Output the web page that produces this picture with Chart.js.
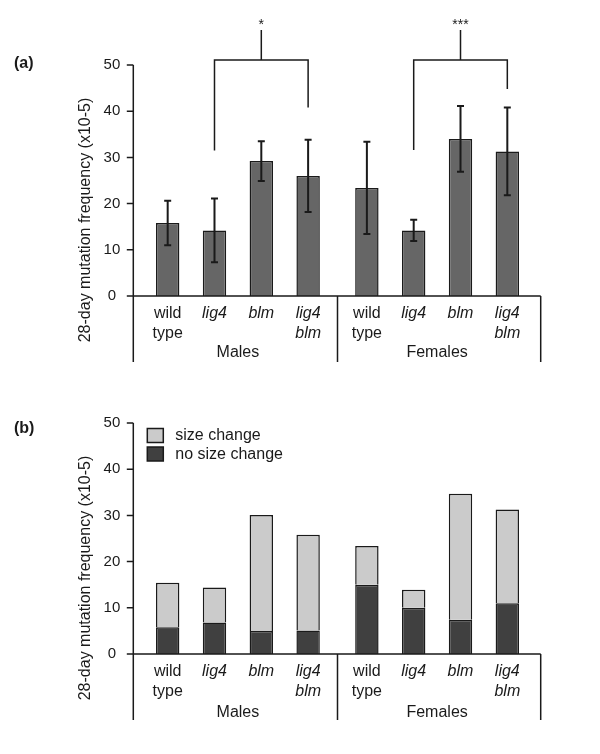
<!DOCTYPE html>
<html>
<head>
<meta charset="utf-8">
<title>28-day mutation frequency</title>
<script src="https://cdn.jsdelivr.net/npm/chart.js"></script>
<style>
  body { margin: 0; background: #fff; }
  #wrap { position: relative; width: 600px; height: 754px; }
  canvas { position: absolute; left: 0; }
</style>
</head>
<body>
<div id="wrap">
  <canvas id="chartA" width="600" height="377" style="top:0"></canvas>
  <canvas id="chartB" width="600" height="377" style="top:358px"></canvas>
</div>
<script>
const sexes = ['Males', 'Females'];
const genotypes = [['wild', 'type'], ['lig4'], ['blm'], ['lig4', 'blm']];
const italicGenotype = [false, true, true, true];
const yTicks = [0, 10, 20, 30, 40, 50];

// (a) 28-day mutation frequency (x10-5) with error
const freqMales = [15.8, 14.2, 29.2, 26.0];
const freqFemales = [23.4, 14.2, 34.0, 31.3];
const errMales = [4.8, 6.9, 4.3, 7.8];
const errFemales = [10.0, 2.3, 7.1, 9.5];

// (b) split by mutant type
const noSizeMales = [5.8, 6.8, 5.0, 5.1];
const noSizeFemales = [15.0, 10.0, 7.4, 11.0];
const sizeMales = [9.6, 7.6, 25.1, 20.7];
const sizeFemales = [8.4, 3.9, 27.3, 20.3];

// significance brackets lig4 vs lig4 blm (Males, Females)
const sigLabels = ['*', '***'];
const sigLegLeft = [31.5, 31.6];
const sigLegRight = [40.8, 44.8];

const FONT = '"Liberation Sans", Arial, Helvetica, sans-serif';
const INK = '#1a1a1a';

function barPos(chart, genotype, sex) {
    const idx = chart.data.datasets.findIndex(d => d.genotype === genotype);
    return chart.getDatasetMeta(idx).data[sex].x;
}

// axes frame, group separators, genotype labels, y title, panel letter
const framePlugin = {
    id: 'frame',
    afterDraw(chart, args, opts) {
        const ctx = chart.ctx;
        const area = chart.chartArea;
        const x = chart.scales.x, y = chart.scales.y;
        const left = area.left - 5, right = area.right + 4;
        const base = y.getPixelForValue(0);
        ctx.save();
        ctx.strokeStyle = INK;
        ctx.lineWidth = 1.5;
        ctx.beginPath();
        ctx.moveTo(left, y.getPixelForValue(50));
        ctx.lineTo(left, base + 66);
        yTicks.forEach(v => {
            const p = y.getPixelForValue(v);
            ctx.moveTo(left - 6.5, p);
            ctx.lineTo(left, p);
        });
        ctx.moveTo(left - 6.5, base);
        ctx.lineTo(right, base);
        const mid = (x.getPixelForValue(0) + x.getPixelForValue(1)) / 2;
        ctx.moveTo(mid, base);
        ctx.lineTo(mid, base + 66);
        ctx.moveTo(right, base);
        ctx.lineTo(right, base + 66);
        ctx.stroke();

        ctx.fillStyle = INK;
        ctx.textAlign = 'center';
        ctx.textBaseline = 'middle';
        sexes.forEach((s, si) => {
            genotypes.forEach((lines, gi) => {
                ctx.font = (italicGenotype[gi] ? 'italic ' : '') + '16px ' + FONT;
                const bx = barPos(chart, gi, si);
                lines.forEach((t, li) => ctx.fillText(t, bx, base + 18 + li * 20));
            });
        });

        // y axis title
        ctx.font = '16px ' + FONT;
        ctx.save();
        ctx.translate(86, base - 76);
        ctx.rotate(-Math.PI / 2);
        ctx.fillText('28-day mutation frequency (x10-5)', 0, 0);
        ctx.restore();

        // panel letter
        ctx.font = 'bold 16px ' + FONT;
        ctx.textAlign = 'left';
        ctx.fillText(opts.letter, 14, opts.letterY);
        ctx.restore();
    }
};

const errorBarPlugin = {
    id: 'errorBars',
    afterDatasetsDraw(chart) {
        const ctx = chart.ctx;
        const y = chart.scales.y;
        ctx.save();
        ctx.strokeStyle = INK;
        ctx.lineWidth = 2;
        chart.data.datasets.forEach((ds, di) => {
            if (!ds.err) return;
            chart.getDatasetMeta(di).data.forEach((bar, i) => {
                const hi = y.getPixelForValue(ds.data[i] + ds.err[i]);
                const lo = y.getPixelForValue(ds.data[i] - ds.err[i]);
                ctx.beginPath();
                ctx.moveTo(bar.x, hi); ctx.lineTo(bar.x, lo);
                ctx.moveTo(bar.x - 3.5, hi); ctx.lineTo(bar.x + 3.5, hi);
                ctx.moveTo(bar.x - 3.5, lo); ctx.lineTo(bar.x + 3.5, lo);
                ctx.stroke();
            });
        });
        ctx.restore();
    }
};

const bracketPlugin = {
    id: 'brackets',
    afterDraw(chart) {
        const ctx = chart.ctx;
        const y = chart.scales.y;
        const yBar = y.getPixelForValue(51.1);
        const yTop = y.getPixelForValue(57.6);
        ctx.save();
        ctx.strokeStyle = INK;
        ctx.lineWidth = 1.5;
        ctx.fillStyle = INK;
        ctx.font = '14px ' + FONT;
        ctx.textAlign = 'center';
        ctx.textBaseline = 'middle';
        sexes.forEach((s, si) => {
            const lx = barPos(chart, 1, si), rx = barPos(chart, 3, si);
            const cx = (lx + rx) / 2;
            ctx.beginPath();
            ctx.moveTo(lx, y.getPixelForValue(sigLegLeft[si]));
            ctx.lineTo(lx, yBar);
            ctx.lineTo(rx, yBar);
            ctx.lineTo(rx, y.getPixelForValue(sigLegRight[si]));
            ctx.moveTo(cx, yBar);
            ctx.lineTo(cx, yTop);
            ctx.stroke();
            ctx.fillText(sigLabels[si], cx, yTop - 5);
        });
        ctx.restore();
    }
};

const legendPlugin = {
    id: 'boxLegend',
    afterDraw(chart) {
        const ctx = chart.ctx;
        const area = chart.chartArea;
        const items = [['size change', '#cbcbcb'], ['no size change', '#404040']];
        ctx.save();
        ctx.font = '16px ' + FONT;
        ctx.textBaseline = 'middle';
        items.forEach(([text, color], i) => {
            const bx = area.left + 9, by = area.top + 5.5 + i * 18.5;
            ctx.fillStyle = color;
            ctx.fillRect(bx, by, 16, 14);
            ctx.strokeStyle = INK;
            ctx.lineWidth = 1.5;
            ctx.strokeRect(bx, by, 16, 14);
            ctx.fillStyle = INK;
            ctx.fillText(text, bx + 28, by + 7.5);
        });
        ctx.restore();
    }
};

function makeOptions(letter, letterY, labelPad, stacked) {
    return {
        responsive: false,
        animation: false,
        layout: { padding: { top: 65, right: 63.3, left: 0, bottom: 0 } },
        plugins: {
            legend: { display: false },
            tooltip: { enabled: false },
            frame: { letter: letter, letterY: letterY }
        },
        scales: {
            x: {
                grid: { display: false, drawTicks: false },
                border: { display: false },
                ticks: { color: INK, font: { family: FONT, size: 16 }, padding: labelPad },
                afterFit: s => { s.height = 81; }
            },
            y: {
                stacked: stacked,
                min: 0,
                max: 50,
                grid: { display: false, drawTicks: false },
                border: { display: false },
                ticks: { stepSize: 10, color: INK, font: { family: FONT, size: 15 }, padding: 18, crossAlign: 'center' },
                afterFit: s => { s.width = 138.3; }
            }
        }
    };
}

const barStyle = {
    borderColor: INK,
    borderWidth: 1.5,
    categoryPercentage: 0.94,
    barPercentage: 0.5
};

new Chart(document.getElementById('chartA'), {
    type: 'bar',
    data: {
        labels: sexes,
        datasets: genotypes.map((g, i) => Object.assign({
            label: g.join(' '),
            genotype: i,
            data: [freqMales[i], freqFemales[i]],
            err: [errMales[i], errFemales[i]],
            backgroundColor: '#666666'
        }, barStyle))
    },
    options: makeOptions('(a)', 63.3, 47, false),
    plugins: [errorBarPlugin, bracketPlugin, framePlugin]
});

const datasetsB = [];
genotypes.forEach((g, i) => {
    datasetsB.push(Object.assign({
        label: 'no size change',
        genotype: i,
        stack: 'g' + i,
        data: [noSizeMales[i], noSizeFemales[i]],
        backgroundColor: '#404040'
    }, barStyle));
    datasetsB.push(Object.assign({
        label: 'size change',
        stack: 'g' + i,
        data: [sizeMales[i], sizeFemales[i]],
        backgroundColor: '#cbcbcb'
    }, barStyle));
});

new Chart(document.getElementById('chartB'), {
    type: 'bar',
    data: { labels: sexes, datasets: datasetsB },
    options: makeOptions('(b)', 71, 49, true),
    plugins: [legendPlugin, framePlugin]
});
</script>
</body>
</html>
